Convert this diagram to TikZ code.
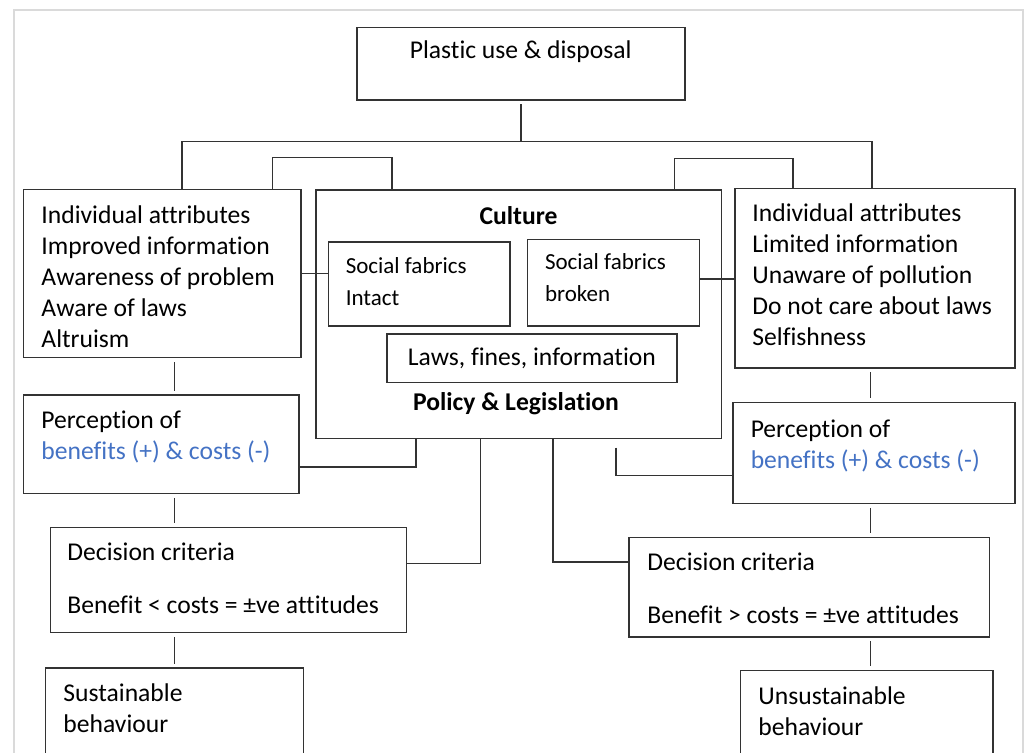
\documentclass[tikz,border=0pt]{standalone}
\usepackage{fontspec}
\setmainfont{Carlito}[Ligatures=NoCommon]
\usepackage{tikz}
\definecolor{dfline}{RGB}{51,51,51}
\definecolor{dfblue}{RGB}{68,114,196}
\definecolor{dfframe}{RGB}{218,218,218}
\tikzstyle{blk} = [draw=dfline, line width=0.75pt, anchor=north west, inner ysep=0pt, align=flush left]
\tikzstyle{wire} = [draw=dfline, line width=0.75pt]
\tikzstyle{gap} = [shorten <=1.8pt, shorten >=1.8pt]
\newcommand{\smallfab}{\fontsize{11.5}{16}\selectfont}

\begin{document}
\begin{tikzpicture}[x=0.5pt, y=-0.5pt, font=\fontsize{12.8}{15.5}\selectfont]
\useasboundingbox (0,0) rectangle (1024,753);
\clip (0,0) rectangle (1024,753);
% page frame
\draw[dfframe, line width=1pt] (14,760) -- (14,10.3) -- (1022.5,10.3) -- (1022.5,760);

% Top box
\node[blk, align=flush center, inner xsep=0pt, text width=164pt, text height=15.65pt, text depth=20.65pt] (plastic) at (356,26.7) {Plastic use \& disposal};

% Left column
\node[blk, inner xsep=9pt, text width=120.65pt, text height=17pt, text depth=67pt] (indL) at (22.7,189)
  {Individual attributes\\Improved information\\Awareness of problem\\Aware of laws\\Altruism};
\node[blk, inner xsep=9pt, text width=119.85pt, text height=16.7pt, text depth=32.5pt] (percL) at (22.7,394.3)
  {Perception of\\\textcolor{dfblue}{benefits (+) \& costs (-)}};
\node[blk, inner xsep=8.5pt, text width=161pt, text height=16.5pt, text depth=35.85pt] (decL) at (49.7,527)
  {Decision criteria\\[10.7pt]Benefit < costs = ±ve attitudes};
\node[blk, inner xsep=9pt, text width=111pt, text height=16.85pt, text depth=44.5pt] (susL) at (44.7,667.3)
  {Sustainable\\behaviour};

% Middle: culture and policy
\node[blk, align=flush center, inner xsep=0pt, text width=202.85pt, text height=17pt, text depth=107.2pt] (culture) at (315,189.3)
  {\textbf{Culture}};
\node[blk, font=\smallfab, inner xsep=8.65pt, text width=73.35pt, text height=15.5pt, text depth=26.5pt] (sfIntact) at (327.7,241.3)
  {Social fabrics\\Intact};
\node[blk, font=\smallfab, inner xsep=8.8pt, text width=68.4pt, text height=14.65pt, text depth=28.5pt] (sfBroken) at (526.7,239)
  {Social fabrics\\broken};
\node[blk, align=flush center, inner xsep=0pt, text width=144.85pt, text height=15.85pt, text depth=8.35pt] (laws) at (386.3,333.3)
  {Laws, fines, information};
\node[anchor=base, inner sep=0pt] (policy) at (516,410.7) {\textbf{Policy \& Legislation}};

% Right column
\node[blk, inner xsep=8.7pt, text width=122.45pt, text height=16.65pt, text depth=73.15pt] (indR) at (734.3,187.7)
  {Individual attributes\\Limited information\\Unaware of pollution\\Do not care about laws\\Selfishness};
\node[blk, inner xsep=9pt, text width=123pt, text height=17.5pt, text depth=33pt] (percR) at (732,401.7)
  {Perception of\\\textcolor{dfblue}{benefits (+) \& costs (-)}};
\node[blk, inner xsep=9.2pt, text width=161.8pt, text height=16.5pt, text depth=33.15pt] (decR) at (628.3,537)
  {Decision criteria\\[10.7pt]Benefit > costs = ±ve attitudes};
\node[blk, inner xsep=9pt, text width=108.3pt, text height=16.65pt, text depth=43.35pt] (unsR) at (739.7,670)
  {Unsustainable\\behaviour};

% Junction points
\coordinate (split) at (518,141.7);
\coordinate (tapL) at (182,141.7);
\coordinate (tapR) at (872,141.7);
\coordinate (hookLa) at (272.5,157.7);
\coordinate (hookLb) at (392,157.7);
\coordinate (hookRa) at (674.5,158.3);
\coordinate (hookRb) at (792.8,158.3);
\coordinate (colL) at (174.5,0);
\coordinate (colR) at (870.7,0);
\coordinate (sideR) at (0,279);
\coordinate (j1) at (416,467);
\coordinate (j2) at (480.3,563.3);
\coordinate (j3) at (553,562);
\coordinate (j4) at (616,475.3);

% Tree from the top box
\draw[wire, shorten <=1.8pt] (plastic.south) -- (plastic.south |- split);
\draw[wire] (indL.north -| tapL) -- (tapL) -- (tapR) -- (indR.north -| tapR);
\draw[wire] (indL.north -| hookLa) |- (hookLb) -- (culture.north -| hookLb);
\draw[wire] (culture.north -| hookRa) |- (hookRb) -- (indR.north -| hookRb);

% Side links to social fabrics
\draw[wire] (indL.east) -- (indL.east -| sfIntact.west);
\draw[wire] (sfBroken.east |- sideR) -- (indR.west |- sideR);

% Vertical chains
\draw[wire, gap] (indL.south -| colL) -- (percL.north -| colL);
\draw[wire, gap] (percL.south -| colL) -- (decL.north -| colL);
\draw[wire, gap] (decL.south -| colL) -- (susL.north -| colL);
\draw[wire, gap] (indR.south -| colR) -- (percR.north -| colR);
\draw[wire, gap] (percR.south -| colR) -- (decR.north -| colR);
\draw[wire, gap] (decR.south -| colR) -- (unsR.north -| colR);

% Links out of culture box
\draw[wire] (culture.south -| j1) -- (j1) -- (j1 -| percL.east);
\draw[wire] (culture.south -| j2) -- (j2) -- (j2 -| decL.east);
\draw[wire] (culture.south -| j3) -- (j3) -- (j3 -| decR.west);
\draw[wire, shorten <=4.2pt] (culture.south -| j4) -- (j4) -- (j4 -| percR.west);
\end{tikzpicture}
\end{document}
